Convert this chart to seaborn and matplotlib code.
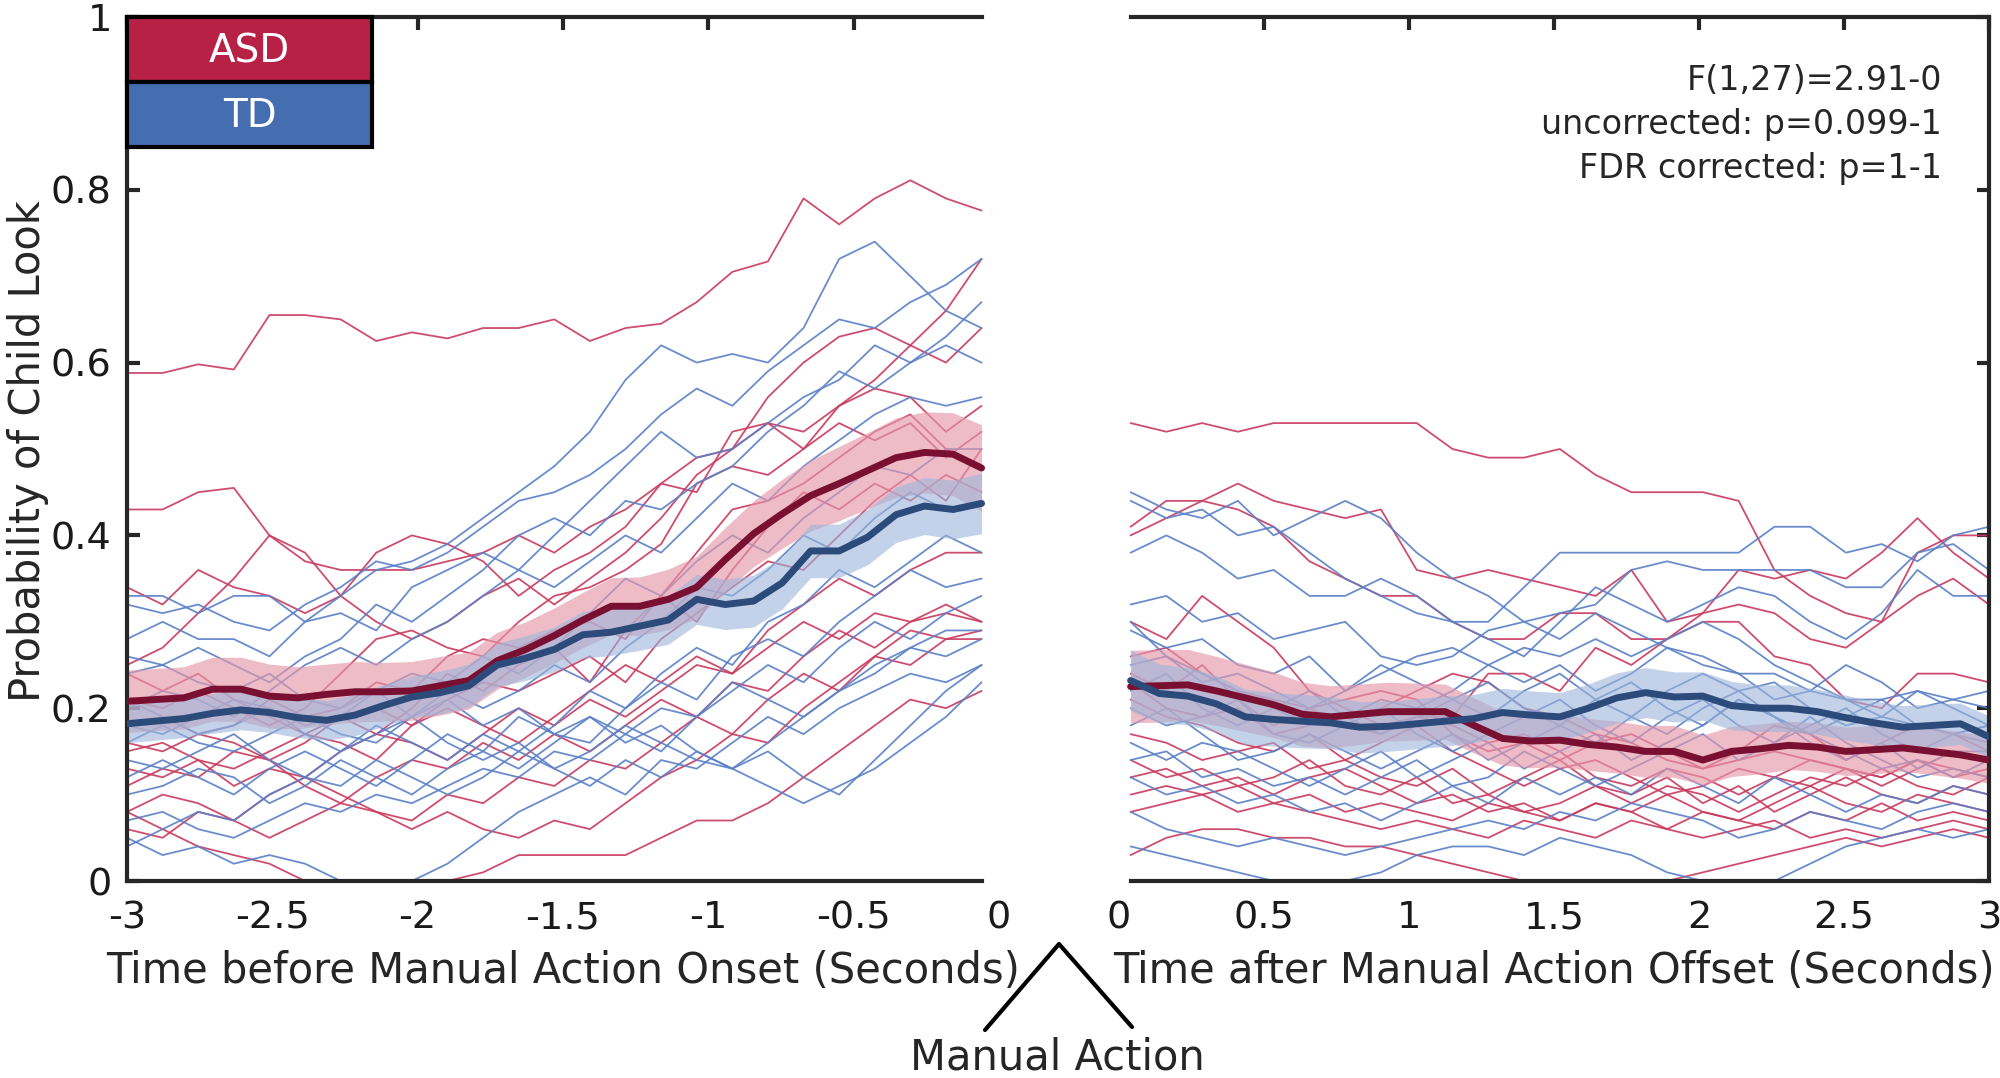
import numpy as np
import pandas as pd
import matplotlib
matplotlib.use("Agg")
import matplotlib.pyplot as plt
import seaborn as sns
from matplotlib.patches import Rectangle
from matplotlib.lines import Line2D

# ---- individual subject traces (25 samples per window) ----
asd_before = [
    [.588, .588, .598, .592, .655, .655, .650, .625, .635, .628, .640, .640, .650, .625, .640, .645, .670, .705, .717, .790, .760, .790, .811, .790, .776],
    [.43, .43, .45, .455, .40, .37, .36, .36, .36, .37, .38, .40, .38, .41, .43, .46, .49, .50, .56, .60, .63, .64, .62, .66, .72],
    [.34, .32, .36, .34, .33, .31, .33, .38, .40, .39, .37, .33, .36, .38, .41, .46, .45, .52, .53, .50, .55, .58, .62, .60, .64],
    [.25, .27, .31, .35, .40, .38, .33, .30, .28, .30, .33, .35, .32, .35, .38, .42, .47, .50, .53, .52, .55, .57, .56, .52, .55],
    [.21, .20, .22, .20, .18, .20, .24, .28, .29, .27, .26, .30, .33, .34, .36, .39, .46, .48, .47, .50, .53, .51, .53, .49, .52],
    [.18, .19, .17, .18, .21, .19, .20, .23, .22, .26, .28, .27, .29, .30, .28, .33, .38, .43, .44, .46, .49, .52, .54, .50, .48],
    [.16, .15, .17, .16, .14, .16, .19, .17, .20, .24, .22, .25, .27, .23, .29, .33, .30, .36, .41, .45, .43, .46, .44, .47, .45],
    [.15, .16, .14, .13, .15, .17, .16, .14, .18, .20, .18, .16, .19, .22, .25, .23, .26, .24, .29, .32, .35, .33, .36, .38, .38],
    [.13, .12, .14, .11, .13, .12, .15, .17, .16, .14, .17, .20, .18, .21, .19, .22, .25, .24, .27, .30, .28, .31, .30, .32, .30],
    [.11, .13, .12, .15, .14, .11, .09, .12, .14, .13, .16, .14, .17, .15, .18, .21, .19, .23, .22, .26, .29, .27, .30, .31, .30],
    [.08, .10, .09, .07, .10, .12, .10, .08, .07, .10, .09, .12, .11, .14, .13, .16, .19, .17, .21, .24, .22, .26, .29, .28, .29],
    [.06, .05, .08, .07, .05, .07, .09, .08, .06, .08, .06, .05, .07, .06, .09, .12, .14, .17, .16, .20, .23, .26, .25, .28, .28],
    [.08, .06, .04, .03, .02, .0, .0, .0, .0, .0, .01, .03, .03, .03, .03, .05, .07, .07, .09, .12, .15, .18, .21, .20, .22],
    [.24, .22, .24, .21, .19, .17, .19, .20, .18, .21, .23, .22, .24, .26, .23, .28, .31, .34, .37, .36, .40, .44, .47, .44, .50],
]
td_before = [
    [.33, .33, .31, .33, .33, .30, .33, .36, .37, .39, .42, .45, .48, .52, .58, .62, .60, .61, .60, .64, .72, .74, .70, .66, .64],
    [.32, .31, .32, .30, .29, .32, .34, .37, .36, .38, .41, .44, .45, .47, .50, .54, .57, .55, .59, .62, .65, .64, .67, .69, .72],
    [.28, .30, .28, .28, .26, .30, .31, .29, .34, .36, .38, .36, .40, .44, .48, .52, .49, .50, .53, .56, .58, .62, .60, .63, .67],
    [.24, .25, .27, .25, .23, .26, .28, .32, .30, .33, .36, .40, .42, .40, .44, .43, .46, .48, .52, .55, .59, .57, .60, .62, .60],
    [.20, .22, .21, .19, .22, .25, .27, .25, .28, .30, .33, .36, .34, .37, .40, .38, .42, .46, .44, .48, .51, .54, .56, .55, .56],
    [.18, .17, .19, .21, .20, .18, .19, .22, .24, .23, .26, .24, .27, .31, .35, .33, .37, .40, .38, .42, .45, .48, .47, .50, .50],
    [.16, .18, .16, .15, .17, .19, .17, .16, .19, .22, .20, .22, .25, .23, .27, .30, .34, .33, .36, .40, .38, .42, .45, .43, .44],
    [.14, .13, .15, .17, .14, .12, .15, .18, .16, .14, .17, .15, .18, .22, .20, .24, .27, .25, .30, .32, .36, .34, .37, .40, .38],
    [.12, .14, .12, .10, .13, .15, .13, .11, .14, .17, .15, .19, .17, .16, .20, .23, .21, .26, .28, .26, .30, .33, .36, .34, .35],
    [.10, .11, .13, .12, .09, .11, .14, .12, .10, .13, .15, .13, .16, .19, .17, .15, .19, .22, .25, .23, .27, .30, .28, .31, .33],
    [.21, .19, .17, .18, .20, .17, .15, .17, .19, .16, .14, .16, .13, .15, .18, .16, .14, .13, .16, .19, .22, .24, .27, .29, .29],
    [.07, .08, .06, .05, .07, .09, .08, .10, .09, .11, .13, .12, .15, .14, .17, .20, .19, .23, .21, .19, .22, .25, .27, .26, .28],
    [.05, .03, .04, .02, .03, .02, .0, .0, .0, .02, .05, .08, .10, .12, .10, .14, .13, .16, .19, .17, .20, .22, .24, .23, .25],
    [.04, .06, .08, .07, .10, .12, .11, .14, .12, .10, .12, .15, .13, .11, .14, .12, .15, .13, .11, .09, .11, .13, .16, .19, .23],
    [.26, .25, .23, .22, .24, .21, .20, .22, .19, .21, .18, .20, .17, .19, .16, .18, .15, .13, .15, .12, .10, .14, .18, .22, .25],
]
asd_after = [
    [.53, .52, .53, .52, .53, .53, .53, .53, .53, .50, .49, .49, .50, .47, .45, .45, .45, .44, .36, .33, .31, .30, .33, .35, .32],
    [.41, .44, .44, .46, .44, .43, .42, .43, .36, .35, .36, .35, .34, .33, .36, .30, .31, .32, .31, .28, .27, .30, .38, .40, .40],
    [.40, .42, .44, .43, .41, .37, .35, .33, .33, .30, .28, .28, .31, .31, .28, .28, .31, .36, .35, .36, .35, .38, .42, .38, .35],
    [.30, .28, .33, .30, .27, .22, .20, .18, .19, .19, .24, .24, .22, .27, .25, .28, .30, .30, .26, .25, .21, .20, .24, .24, .23],
    [.26, .27, .24, .22, .21, .20, .21, .22, .21, .17, .15, .16, .14, .16, .17, .15, .13, .15, .18, .17, .14, .16, .18, .17, .15],
    [.24, .22, .25, .21, .18, .20, .18, .17, .19, .18, .16, .17, .15, .12, .11, .13, .12, .10, .12, .14, .13, .11, .13, .15, .14],
    [.21, .19, .18, .16, .15, .17, .14, .16, .18, .15, .13, .11, .13, .14, .12, .10, .11, .13, .12, .11, .13, .12, .14, .12, .13],
    [.17, .16, .14, .15, .16, .13, .14, .12, .11, .13, .10, .12, .14, .11, .09, .11, .10, .08, .10, .12, .11, .13, .11, .10, .12],
    [.14, .12, .13, .11, .12, .14, .11, .10, .12, .09, .10, .08, .09, .11, .10, .12, .09, .11, .08, .10, .12, .10, .09, .11, .10],
    [.12, .13, .11, .12, .10, .12, .13, .11, .09, .10, .08, .09, .07, .09, .08, .10, .08, .07, .09, .11, .09, .08, .10, .09, .08],
    [.10, .11, .10, .08, .09, .10, .08, .09, .08, .07, .09, .08, .07, .09, .08, .06, .08, .07, .06, .08, .07, .09, .07, .08, .07],
    [.08, .09, .10, .11, .09, .08, .07, .06, .07, .06, .05, .07, .06, .05, .07, .06, .05, .06, .07, .05, .06, .05, .06, .07, .06],
    [.03, .05, .06, .06, .05, .05, .04, .04, .03, .02, .01, .0, .0, .0, .0, .0, .01, .02, .03, .04, .05, .04, .05, .06, .05],
    [.23, .20, .19, .20, .17, .18, .19, .20, .22, .24, .23, .20, .19, .17, .16, .14, .13, .14, .15, .14, .13, .12, .14, .13, .12],
]
td_after = [
    [.44, .42, .43, .40, .41, .38, .35, .33, .31, .30, .30, .34, .38, .38, .38, .38, .38, .38, .41, .41, .38, .39, .37, .40, .41],
    [.45, .43, .42, .44, .40, .42, .44, .42, .38, .35, .33, .30, .31, .32, .36, .37, .36, .36, .36, .36, .34, .34, .38, .39, .36],
    [.38, .40, .38, .35, .36, .33, .33, .35, .33, .30, .28, .26, .30, .34, .32, .30, .32, .34, .33, .30, .28, .31, .36, .33, .33],
    [.32, .33, .30, .31, .28, .29, .30, .26, .25, .26, .29, .30, .28, .31, .29, .27, .25, .24, .24, .22, .21, .21, .22, .21, .22],
    [.29, .27, .28, .25, .24, .26, .22, .24, .26, .27, .25, .23, .25, .22, .24, .27, .26, .24, .21, .22, .25, .23, .20, .21, .20],
    [.25, .26, .23, .24, .22, .20, .22, .25, .23, .21, .19, .22, .24, .21, .19, .22, .24, .22, .23, .20, .18, .19, .22, .20, .18],
    [.22, .24, .20, .18, .20, .22, .19, .17, .19, .21, .23, .20, .18, .21, .23, .20, .18, .21, .19, .17, .19, .21, .18, .17, .18],
    [.20, .18, .19, .21, .17, .16, .18, .20, .17, .15, .17, .19, .21, .18, .16, .19, .21, .18, .16, .18, .20, .17, .15, .17, .16],
    [.18, .20, .17, .14, .15, .17, .15, .13, .15, .17, .14, .16, .18, .16, .19, .17, .20, .22, .19, .16, .14, .16, .13, .15, .15],
    [.16, .14, .16, .15, .13, .11, .13, .15, .12, .14, .16, .13, .15, .17, .14, .16, .18, .21, .19, .17, .15, .13, .14, .12, .14],
    [.14, .15, .12, .13, .11, .12, .10, .12, .14, .11, .12, .15, .13, .11, .13, .15, .17, .14, .16, .19, .16, .14, .12, .13, .12],
    [.12, .10, .11, .09, .10, .08, .09, .07, .09, .11, .09, .12, .10, .12, .10, .13, .11, .09, .12, .10, .08, .10, .09, .11, .10],
    [.08, .06, .05, .04, .05, .04, .03, .04, .05, .06, .07, .06, .08, .07, .09, .08, .07, .05, .06, .08, .07, .06, .08, .09, .08],
    [.04, .03, .02, .01, .0, .0, .0, .01, .03, .04, .04, .03, .05, .04, .03, .01, .0, .0, .0, .02, .04, .05, .06, .05, .06],
    [.30, .26, .24, .22, .20, .18, .19, .21, .20, .22, .25, .27, .26, .28, .26, .28, .30, .28, .25, .23, .21, .19, .18, .17, .18],
]

# ---- group means and shaded half-widths (31 samples per window) ----
asd_mean_before = [.208, .210, .212, .222, .222, .214, .212, .216, .219, .219, .220, .226, .232, .255, .268, .284,
                   .302, .318, .318, .326, .340, .372, .402, .425, .446, .460, .475, .490, .496, .494, .478]
td_mean_before = [.182, .185, .188, .194, .198, .195, .189, .186, .192, .203, .213, .218, .226, .250, .258, .268,
                  .285, .288, .295, .302, .326, .320, .324, .345, .382, .382, .398, .424, .434, .430, .437]
asd_mean_after = [.225, .226, .227, .220, .212, .204, .193, .190, .193, .196, .196, .196, .180, .165, .162, .163,
                  .158, .155, .150, .150, .140, .150, .153, .157, .155, .150, .152, .154, .150, .146, .140]
td_mean_after = [.232, .217, .214, .205, .190, .187, .185, .183, .178, .179, .182, .185, .188, .195, .192, .190,
                 .200, .212, .218, .213, .214, .203, .200, .200, .196, .189, .183, .178, .180, .182, .167]
asd_hw_before = [.036, .036, .036, .037, .037, .037, .036, .035, .035, .034, .034, .034, .033, .033, .032, .032,
                 .032, .033, .034, .035, .036, .037, .038, .040, .041, .043, .044, .046, .047, .048, .050]
td_hw_before = [.022, .022, .022, .023, .023, .023, .023, .023, .024, .024, .024, .025, .025, .025, .026, .026,
                .027, .027, .028, .028, .029, .029, .030, .030, .031, .031, .032, .032, .033, .034, .035]
asd_hw_after = [.042, .042, .041, .040, .039, .038, .037, .036, .035, .034, .033, .032, .032, .031, .031, .031,
                .030, .030, .030, .030, .029, .029, .029, .028, .028, .028, .028, .027, .027, .027, .027]
td_hw_after = [.035, .034, .033, .033, .032, .031, .031, .030, .030, .029, .029, .029, .028, .028, .028, .028,
               .028, .029, .029, .029, .028, .028, .027, .027, .026, .026, .025, .025, .025, .024, .024]

x_ticks_before = [-3, -2.5, -2, -1.5, -1, -0.5, 0]
x_labels_before = ["-3", "-2.5", "-2", "-1.5", "-1", "-0.5", "0"]
x_ticks_after = [0, 0.5, 1, 1.5, 2, 2.5, 3]
x_labels_after = ["0", "0.5", "1", "1.5", "2", "2.5", "3"]
y_ticks = [0, 0.2, 0.4, 0.6, 0.8, 1]
y_labels = ["0", "0.2", "0.4", "0.6", "0.8", "1"]
groups = ["ASD", "TD"]
stats_text = "F(1,27)=2.91-0\nuncorrected: p=0.099-1\nFDR corrected: p=1-1"

# sample windows (first/last time bins)
BEFORE = (-3.0, -0.06)
AFTER = (0.04, 3.0)

ASD_LINE, TD_LINE = "#C93A5F", "#5B80C6"
ASD_MEAN, TD_MEAN = "#7A1031", "#2D4B7A"
ASD_BAND, TD_BAND = "#E598AA", "#9CB5DA"
ASD_BOX, TD_BOX = "#B72146", "#456EB1"
SPINE = "#262626"


def traces_frame(asd, td, window):
    rows = []
    for grp, traces in (("ASD", asd), ("TD", td)):
        for i, tr in enumerate(traces):
            t = np.linspace(window[0], window[1], len(tr))
            for tt, v in zip(t, tr):
                rows.append({"time": tt, "value": v, "subj": f"{grp}{i}", "group": grp})
    return pd.DataFrame(rows)


def draw_panel(ax, asd, td, means, hws, window):
    df = traces_frame(asd, td, window)
    sns.lineplot(data=df, x="time", y="value", hue="group", units="subj", estimator=None,
                 palette={"ASD": ASD_LINE, "TD": TD_LINE}, lw=1.3, alpha=0.9,
                 legend=False, ax=ax, zorder=1)
    for m, hw, band, alpha in ((means[0], hws[0], ASD_BAND, 0.65), (means[1], hws[1], TD_BAND, 0.6)):
        t = np.linspace(window[0], window[1], len(m))
        m, hw = np.array(m), np.array(hw)
        ax.fill_between(t, m - hw, m + hw, color=band, alpha=alpha, lw=0, zorder=2)
    for m, col in ((means[0], ASD_MEAN), (means[1], TD_MEAN)):
        t = np.linspace(window[0], window[1], len(m))
        sns.lineplot(x=t, y=m, color=col, lw=5, ax=ax, zorder=3)


sns.set_style("white")
plt.rcParams["font.family"] = ["DejaVu Sans"]
plt.rcParams["axes.unicode_minus"] = False

fig = plt.figure(figsize=(20, 10.78), dpi=100)
W, H = 2000, 1078
ax_l = fig.add_axes([127 / W, 1 - 881 / H, 872 / W, 864 / H])
ax_r = fig.add_axes([1119 / W, 1 - 881 / H, 870 / W, 864 / H])

draw_panel(ax_l, asd_before, td_before, (asd_mean_before, td_mean_before),
           (asd_hw_before, td_hw_before), BEFORE)
draw_panel(ax_r, asd_after, td_after, (asd_mean_after, td_mean_after),
           (asd_hw_after, td_hw_after), AFTER)

for ax in (ax_l, ax_r):
    ax.set_ylim(0, 1)
    ax.set_yticks(y_ticks)
    ax.set_ylabel("")
    for s in ax.spines.values():
        s.set_linewidth(3)
        s.set_color(SPINE)
    ax.tick_params(direction="in", length=9, width=3, color=SPINE, labelsize=27.5,
                   pad=11, top=True, labelcolor="#1a1a1a")
    ax.tick_params(axis="x", pad=14)

ax_l.set_xlim(-3, 0)
ax_l.set_xticks(x_ticks_before)
ax_l.set_xticklabels(x_labels_before)
ax_l.set_yticklabels(y_labels)
ax_l.spines["right"].set_visible(False)
ax_l.spines["top"].set_bounds(*BEFORE)
ax_l.spines["bottom"].set_bounds(*BEFORE)
ax_l.tick_params(axis="y", left=True, right=False)
last = ax_l.xaxis.get_major_ticks()[-1]
last.tick1line.set_visible(False)
last.tick2line.set_visible(False)
ax_l.set_xlabel("Time before Manual Action Onset (Seconds)", fontsize=30, labelpad=10)

ax_r.set_xlim(0, 3)
ax_r.set_xticks(x_ticks_after)
ax_r.set_xticklabels(x_labels_after)
ax_r.spines["left"].set_visible(False)
ax_r.spines["top"].set_bounds(*AFTER)
ax_r.spines["bottom"].set_bounds(*AFTER)
ax_r.tick_params(axis="y", left=False, right=True, labelleft=False)
first = ax_r.xaxis.get_major_ticks()[0]
first.tick1line.set_visible(False)
first.tick2line.set_visible(False)
ax_r.set_xlabel("Time after Manual Action Offset (Seconds)", fontsize=30, labelpad=10)

# group key boxes
box_w = (372 - 127) / 872 * 3
for grp, col, y0 in (("ASD", ASD_BOX, 0.925), ("TD", TD_BOX, 0.85)):
    ax_l.add_patch(Rectangle((-3, y0), box_w, 0.075, fc=col, ec="black", lw=3,
                             zorder=6, clip_on=False))
    ax_l.text(-3 + box_w / 2, y0 + 0.0355, grp, color="white", fontsize=28,
              ha="center", va="center", zorder=7)

fig.text(1942 / W, 1 - 64 / H, stats_text, ha="right", va="top", fontsize=24,
         linespacing=1.42, multialignment="right")

fig.text(28 / W, 1 - 451 / H, "Probability of Child Look", rotation=90,
         ha="center", va="center", fontsize=30)

fig.add_artist(Line2D([985 / W, 1059 / W, 1132 / W], [1 - 1030 / H, 1 - 944 / H, 1 - 1027 / H],
                      transform=fig.transFigure, color="black", lw=3))
fig.text(1057 / W, 1 - 1057 / H, "Manual Action", ha="center", va="center", fontsize=30)

fig.savefig("out.png", dpi=100)
